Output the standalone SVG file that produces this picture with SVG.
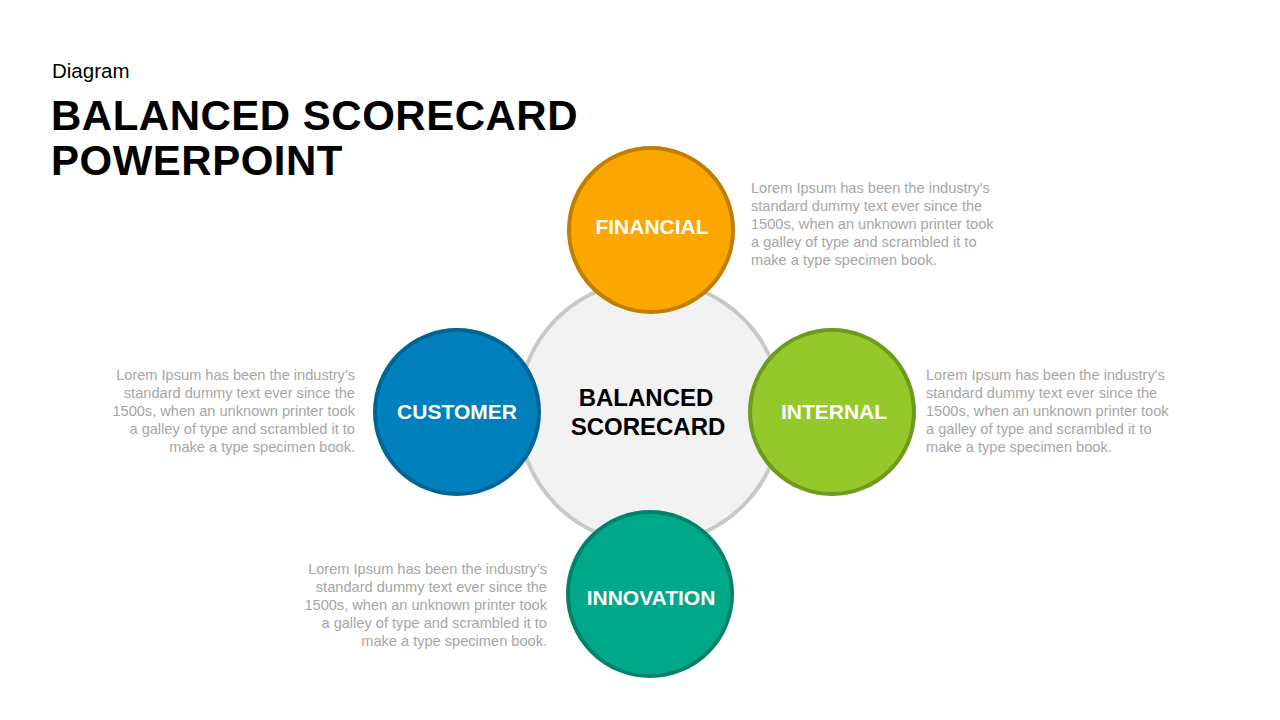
<svg xmlns="http://www.w3.org/2000/svg" width="1280" height="720" viewBox="0 0 1280 720">
<style>
.body{font-family:"Liberation Sans",Arial,sans-serif;font-size:14.6px;fill:#A6A6A6}
.lbl{font-family:"Liberation Sans",Arial,sans-serif;font-size:21px;font-weight:bold;fill:#FFFFFF;text-anchor:middle}
.ctr{font-family:"Liberation Sans",Arial,sans-serif;font-size:24px;font-weight:bold;fill:#000000;text-anchor:middle}
.r{text-anchor:end}
</style>
<rect width="1280" height="720" fill="#FFFFFF"/>
<g id="title">
<text x="52" y="78" font-family="'Liberation Sans',Arial,sans-serif" font-size="20.5" fill="#000">Diagram</text>
<text x="51" y="130" font-family="'Liberation Sans',Arial,sans-serif" font-size="42" font-weight="bold" letter-spacing="0.5" fill="#000">BALANCED SCORECARD</text>
<text x="51" y="175" font-family="'Liberation Sans',Arial,sans-serif" font-size="42" font-weight="bold" letter-spacing="0.5" fill="#000">POWERPOINT</text>
</g>
<g id="center">
<circle cx="650" cy="412" r="132" fill="#F2F2F2" stroke="#C8C8C8" stroke-width="4"/>
<text class="ctr" x="646" y="406">BALANCED</text>
<text class="ctr" x="648" y="435">SCORECARD</text>
</g>
<g id="financial">
<circle cx="651" cy="230" r="82" fill="#FCA600" stroke="#C07F00" stroke-width="4"/>
<text class="lbl" x="652" y="234">FINANCIAL</text>
<text class="body"><tspan x="751" y="193">Lorem Ipsum has been the industry's</tspan><tspan x="751" y="211">standard dummy text ever since the</tspan><tspan x="751" y="229">1500s, when an unknown printer took</tspan><tspan x="751" y="247">a galley of type and scrambled it to</tspan><tspan x="751" y="265">make a type specimen book.</tspan></text>
</g>
<g id="customer">
<circle cx="457" cy="412" r="82" fill="#0080BC" stroke="#006595" stroke-width="4"/>
<text class="lbl" x="457" y="419">CUSTOMER</text>
<text class="body r"><tspan x="355" y="380">Lorem Ipsum has been the industry's</tspan><tspan x="355" y="398">standard dummy text ever since the</tspan><tspan x="355" y="416">1500s, when an unknown printer took</tspan><tspan x="355" y="434">a galley of type and scrambled it to</tspan><tspan x="355" y="452">make a type specimen book.</tspan></text>
</g>
<g id="internal">
<circle cx="832" cy="412" r="82" fill="#95C82B" stroke="#6E9A1E" stroke-width="4"/>
<text class="lbl" x="834" y="419">INTERNAL</text>
<text class="body"><tspan x="926" y="380">Lorem Ipsum has been the industry's</tspan><tspan x="926" y="398">standard dummy text ever since the</tspan><tspan x="926" y="416">1500s, when an unknown printer took</tspan><tspan x="926" y="434">a galley of type and scrambled it to</tspan><tspan x="926" y="452">make a type specimen book.</tspan></text>
</g>
<g id="innovation">
<circle cx="650" cy="594" r="82" fill="#00A88A" stroke="#00836B" stroke-width="4"/>
<text class="lbl" x="651" y="605">INNOVATION</text>
<text class="body r"><tspan x="547" y="574">Lorem Ipsum has been the industry's</tspan><tspan x="547" y="592">standard dummy text ever since the</tspan><tspan x="547" y="610">1500s, when an unknown printer took</tspan><tspan x="547" y="628">a galley of type and scrambled it to</tspan><tspan x="547" y="646">make a type specimen book.</tspan></text>
</g>
<g id="connectors"></g>
</svg>
